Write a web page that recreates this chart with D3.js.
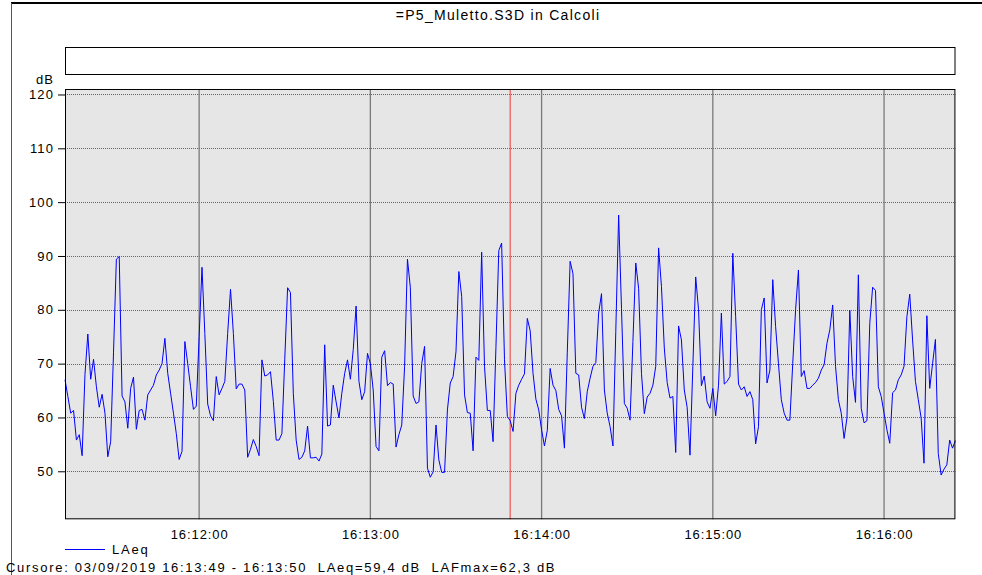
<!DOCTYPE html>
<html>
<head>
<meta charset="utf-8">
<script src="https://cdn.jsdelivr.net/npm/d3@7"></script>
<style>
  html, body { margin: 0; padding: 0; background: #fff; }
  svg { display: block; }
  text { font-family: "Liberation Sans", Arial, sans-serif; white-space: pre; }
</style>
</head>
<body>
<svg id="chart" width="982" height="575"></svg>
<script>
// ---- data ----
const title = "=P5_Muletto.S3D in Calcoli";
const yUnit = "dB";
const seriesName = "LAeq";
const startTime = [2019, 8, 3, 16, 11, 13]; // first sample (local time)
const stepSeconds = 1;
const yTicks = [50, 60, 70, 80, 90, 100, 110, 120];
const cursorTime = [2019, 8, 3, 16, 13, 49];
const cursorText = "Cursore: 03/09/2019 16:13:49 - 16:13:50  LAeq=59,4 dB  LAFmax=62,3 dB";
const laeq = [
67,63.9,60.8,61.3,55.8,56.8,52.9,68,75.5,67.1,70.8,65.7,61.9,64.3,60.8,52.7,55.5,72,89.4,89.9,
64,62.9,58,65.4,67.5,57.8,61.3,61.5,59.5,64.2,65.1,66,67.9,68.8,70,74.7,68.2,64.5,60.8,57,
52.2,53.7,74.1,70,65.7,61.5,62.1,75,87.9,75.6,62.5,60.3,59.4,67.6,64.2,65.4,66.7,75.6,83.8,75.6,
65.3,66.2,66.2,65.1,52.6,54.1,55.9,54.6,52.9,70.7,67.7,67.9,68.5,63,55.8,55.8,57,70.7,84.1,83.2,
64.5,55.8,52.2,52.6,53.8,58.4,52.5,52.5,52.6,51.9,53.2,73.5,58.4,58.6,66,62.9,59.9,64.5,68.2,70.7,
67.1,72.6,80.7,66.7,63.3,64.8,71.9,70,65.1,54.6,53.8,71.2,72.4,65.9,66.5,66.2,54.5,56.8,58.6,69.5,
89.4,84.2,64,62.6,62.9,70,73.2,50.6,48.9,49.9,58.6,52.1,49.8,49.8,61.4,66.4,67.6,72.2,87.1,82.5,
64.2,60.9,60.8,53.8,71.2,70.6,90.7,69.5,61.3,61.3,55.5,73,91,92.4,70.7,60.2,59.4,57.4,64.5,66,
67.1,68.1,78.4,76.1,68.2,63.4,61.4,57.7,54.7,57.6,69.1,66,65,61.5,60.3,54.3,72,89,86.7,68.2,
67.9,61.9,59.8,64.8,67.3,69.5,70.2,79.4,83,65.1,60.8,58.3,54.7,76,97.6,80.2,62.6,61.7,59.5,74.1,
88.7,84,68.2,60.7,63.8,64.5,66,69.5,91.5,84.3,72.9,66.5,63.6,63.9,53.5,77,74.4,65.1,61.9,53,
69.5,86.1,80,65.9,67.7,62.9,61.7,65.4,60.3,66,79.4,66.2,66.7,67.6,90.5,78.7,66.2,65.1,65.7,63.9,
64.8,63.3,55.1,58.3,80,82.2,66.4,68.8,85.6,76.9,70,63.3,60.8,59.5,59.5,70,80,87.4,67.6,68.7,
65.4,65.4,66,66.5,67.3,68.8,69.8,73.8,76.3,80.9,69.5,63.3,60.8,56.1,59.9,79.9,67.6,62.8,86.5,61.7,
59,59.4,77.5,84.2,83.6,65.7,63.9,60.8,57.7,55.2,64.6,65.1,67,67.9,69.5,78.7,82.9,74.4,66.7,63.3,
59.9,51.5,78.9,65.4,70,74.5,53.3,49.3,50.4,51.2,55.8,54.3,55.7
];

// ---- build ----
const t0 = new Date(...startTime);
const data = laeq.map((v, i) => ({ t: new Date(t0.getTime() + i * stepSeconds * 1000), v }));

const svg = d3.select("#chart");
const plot = { left: 65, right: 955.4, top: 89, bottom: 519.3 };

const x = d3.scaleTime()
  .domain(d3.extent(data, d => d.t))
  .range([plot.left, plot.right]);
const y = d3.scaleLinear()
  .domain([41.08, 121.02])
  .range([plot.bottom, plot.top]);

// outer frame
svg.append("line").attr("x1", 11).attr("x2", 982).attr("y1", 3).attr("y2", 3)
  .attr("stroke", "#000").attr("stroke-width", 2);
svg.append("line").attr("x1", 11.5).attr("x2", 11.5).attr("y1", 3).attr("y2", 575)
  .attr("stroke", "#555").attr("stroke-width", 1);

// title
svg.append("text").attr("x", 498).attr("y", 20).attr("text-anchor", "middle")
  .attr("font-size", 14).attr("letter-spacing", 1.3).attr("fill", "#000").text(title);

// empty box
svg.append("rect").attr("x", 65.5).attr("y", 47.5).attr("width", 889.5).attr("height", 27)
  .attr("fill", "#fff").attr("stroke", "#000").attr("stroke-width", 1);

// plot background
svg.append("rect").attr("x", plot.left).attr("y", plot.top)
  .attr("width", plot.right - plot.left).attr("height", plot.bottom - plot.top)
  .attr("fill", "#e6e6e6");

// horizontal gridlines (dotted)
svg.append("g").selectAll("line").data(yTicks).join("line")
  .attr("x1", plot.left).attr("x2", plot.right)
  .attr("y1", d => Math.round(y(d)) + 0.5).attr("y2", d => Math.round(y(d)) + 0.5)
  .attr("stroke", "#666").attr("stroke-width", 1).attr("stroke-dasharray", "1,1");

// vertical gridlines (minutes)
const xTicks = x.ticks(d3.timeMinute.every(1));
svg.append("g").selectAll("line").data(xTicks).join("line")
  .attr("x1", d => x(d)).attr("x2", d => x(d))
  .attr("y1", plot.top).attr("y2", plot.bottom)
  .attr("stroke", "#7a7a7a").attr("stroke-width", 1.3);

// cursor
svg.append("line")
  .attr("x1", x(new Date(...cursorTime))).attr("x2", x(new Date(...cursorTime)))
  .attr("y1", plot.top).attr("y2", plot.bottom)
  .attr("stroke", "#f06060").attr("stroke-width", 1.3);

// data line
svg.append("path").datum(data)
  .attr("fill", "none").attr("stroke", "#0000ff").attr("stroke-width", 1)
  .attr("d", d3.line().x(d => x(d.t)).y(d => y(d.v)));

// plot frame
svg.append("rect").attr("x", plot.left + 0.5).attr("y", plot.top + 0.5)
  .attr("width", plot.right - plot.left - 1).attr("height", plot.bottom - plot.top - 1)
  .attr("fill", "none").attr("stroke", "#000").attr("stroke-width", 1);

// y axis
const yAxis = svg.append("g").attr("transform", `translate(${plot.left},0)`)
  .call(d3.axisLeft(y).tickValues(yTicks).tickSize(7).tickPadding(4));
yAxis.select(".domain").remove();
yAxis.selectAll("text").attr("font-size", 13).attr("letter-spacing", 1.1).attr("fill", "#000")
  .style("font-family", "'Liberation Sans', Arial, sans-serif");
yAxis.selectAll("line").attr("stroke", "#000");

svg.append("text").attr("x", 54).attr("y", 84).attr("text-anchor", "end")
  .attr("font-size", 13).attr("letter-spacing", 1.1).attr("fill", "#000").text(yUnit);

// x axis
const xAxis = svg.append("g").attr("transform", `translate(0,${plot.bottom})`)
  .call(d3.axisBottom(x).ticks(d3.timeMinute.every(1)).tickFormat(d3.timeFormat("%H:%M:%S")).tickSize(0).tickPadding(10));
xAxis.select(".domain").remove();
xAxis.selectAll("text").attr("font-size", 13).attr("letter-spacing", 0.9).attr("fill", "#000")
  .style("font-family", "'Liberation Sans', Arial, sans-serif");

// legend
svg.append("line").attr("x1", 65).attr("x2", 105).attr("y1", 549.5).attr("y2", 549.5)
  .attr("stroke", "#0000ff").attr("stroke-width", 1);
svg.append("text").attr("x", 112).attr("y", 554).attr("font-size", 13).attr("letter-spacing", 1.8)
  .attr("fill", "#000").text(seriesName);

// cursor info
svg.append("text").attr("x", 6).attr("y", 572).attr("font-size", 13).attr("letter-spacing", 1.7)
  .attr("fill", "#000").text(cursorText);
</script>
</body>
</html>
